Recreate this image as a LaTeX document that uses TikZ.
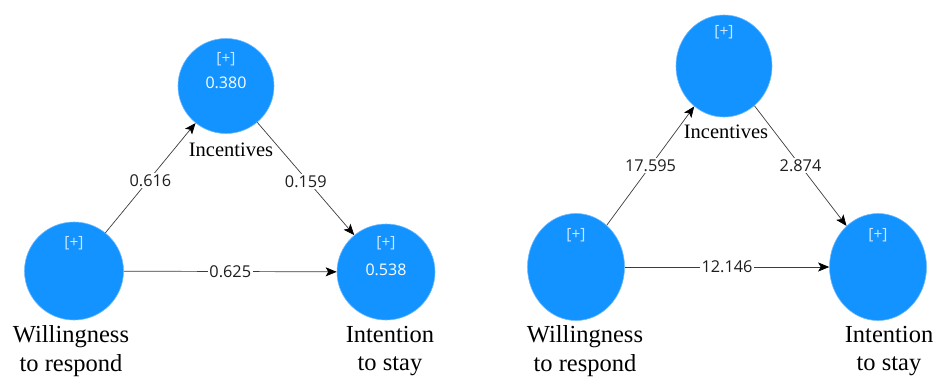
\documentclass[tikz,border=0pt]{standalone}
\usepackage{fontspec}
\setmainfont{Liberation Serif}
\newfontfamily\numfont{Open Sans}
\usetikzlibrary{arrows.meta,shapes.geometric}
\definecolor{nodeblue}{RGB}{18,147,255}
\definecolor{nodeedge}{RGB}{110,185,255}
\definecolor{plustext}{RGB}{205,230,255}
\definecolor{linegray}{RGB}{60,60,60}
\definecolor{coeftext}{RGB}{30,30,30}
\begin{document}
\begin{tikzpicture}[x=1pt,y=-1pt,
  latent/.style={ellipse, fill=nodeblue, draw=nodeedge, line width=0.6pt, inner sep=0pt},
  plus/.style={font=\numfont\fontsize{15.5}{18}\selectfont, text=plustext, inner sep=0pt},
  val/.style={font=\numfont\fontsize{16}{18}\selectfont, text=white, inner sep=0pt},
  pathline/.style={draw=linegray, line width=0.7pt, -{Stealth[length=11pt,width=9pt,inset=2.5pt,color=black]}},
  coef/.style={font=\numfont\fontsize{16.3}{18}\selectfont, fill=white, inner sep=1.5pt, text=coeftext},
  lvname/.style={font=\fontsize{24.5}{28.5}\selectfont, align=center, inner sep=0pt},
  incname/.style={font=\fontsize{20.5}{24}\selectfont, inner sep=0pt}
]
\useasboundingbox (0,0) rectangle (934,378);

% ---------- left model ----------
\node[latent, minimum width=96pt, minimum height=95pt] (incL) at (226,86) {};
\node[latent, minimum width=99pt, minimum height=98pt] (wilL) at (74,271) {};
\node[latent, minimum width=98pt, minimum height=96pt] (intL) at (386,272) {};

\node[plus] (incLp) at (226,59) {[+]};
\node[val]  (incLv) at (226,83) {0.380};
\node[plus] (wilLp) at (74,243) {[+]};
\node[plus] (intLp) at (386,243) {[+]};
\node[val]  (intLv) at (386,270) {0.538};

\node[incname] (incLn) at (231,150) {Incentives};
\node[lvname] (wilLn) at (71,351) {Willingness\\to respond};
\node[lvname] (intLn) at (390,351) {Intention\\to stay};

\draw[pathline] (wilL) -- node[coef, yshift=-3pt] {0.616} (incL);
\draw[pathline] (incL) -- node[coef, yshift=-3pt] {0.159} (intL);
\draw[pathline] (wilL) -- node[coef] {0.625} (intL);

% ---------- right model ----------
\node[latent, minimum width=96pt, minimum height=102pt] (incR) at (724,66) {};
\node[latent, minimum width=97pt, minimum height=107pt] (wilR) at (576,267) {};
\node[latent, minimum width=97pt, minimum height=107pt] (intR) at (878,267) {};

\node[plus] (incRp) at (724,32) {[+]};
\node[plus] (wilRp) at (576,235) {[+]};
\node[plus] (intRp) at (878,235) {[+]};

\node[incname] (incRn) at (726,132) {Incentives};
\node[lvname] (wilRn) at (585,351) {Willingness\\to respond};
\node[lvname] (intRn) at (889,351) {Intention\\to stay};

\draw[pathline] (wilR) -- node[coef] {17.595} (incR);
\draw[pathline] (incR) -- node[coef] {2.874} (intR);
\draw[pathline] (wilR) -- node[coef] {12.146} (intR);
\end{tikzpicture}
\end{document}
